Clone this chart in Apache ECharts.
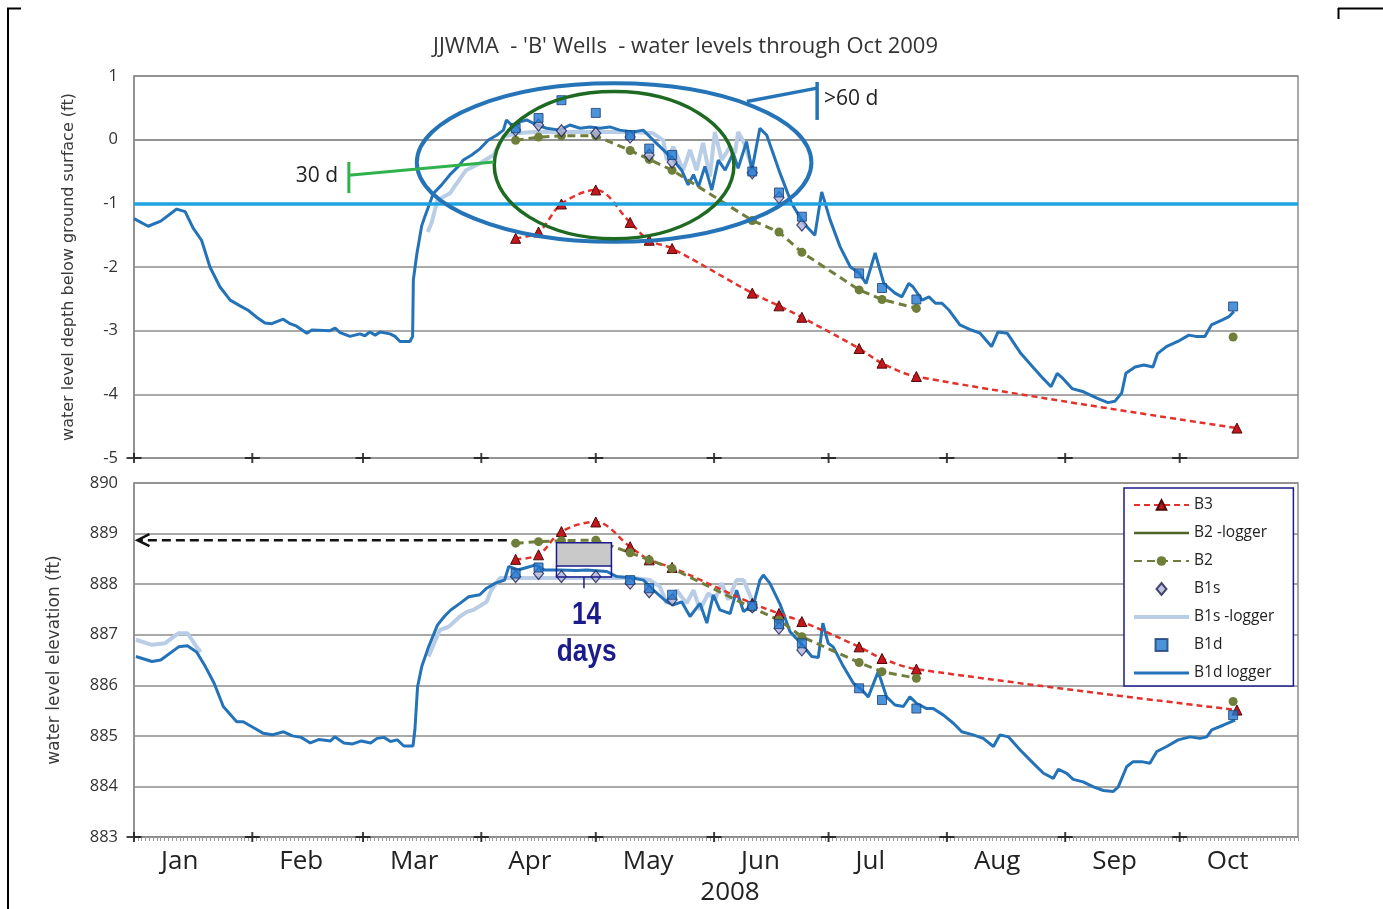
<!DOCTYPE html>
<html>
<head>
<meta charset="utf-8">
<title>JJWMA 'B' Wells - water levels</title>
<script src="https://cdn.jsdelivr.net/npm/echarts@6/dist/echarts.min.js"></script>
<style>
  html, body { margin: 0; padding: 0; background: #ffffff; }
  #chart { width: 1383px; height: 909px; }
</style>
</head>
<body>
<div id="chart"></div>
<script>
// x values are days since 1 Jan 2008 (0 = Jan 1).
const monthStartDays = [0, 31, 60, 91, 121, 152, 182, 213, 244, 274];
const monthLabels = ['Jan', 'Feb', 'Mar', 'Apr', 'May', 'Jun', 'Jul', 'Aug', 'Sep', 'Oct'];

// ---- depth below ground surface (ft) ----
const depthB3 = [[100,-1.55],[106,-1.45],[112,-1.01],[121,-0.79],[130,-1.30],[135,-1.58],[141,-1.71],
  [162,-2.41],[169,-2.61],[175,-2.79],[190,-3.28],[196,-3.51],[205,-3.72],[289,-4.53]];
// the October B2 reading is a separate visit, not joined to the summer run
const depthB2 = [[100,-0.01],[106,0.04],[112,0.06],[121,0.06],[130,-0.17],[135,-0.31],[141,-0.48],
  [162,-1.27],[169,-1.45],[175,-1.77],[190,-2.36],[196,-2.51],[205,-2.65],[250,null],[288,-3.10]];
const depthB1s = [[100,0.15],[106,0.23],[112,0.14],[121,0.10],[130,0.04],[135,-0.24],[141,-0.35],
  [162,-0.52],[169,-0.91],[175,-1.34]];
const depthB1d = [[100,0.18],[106,0.34],[112,0.62],[121,0.42],[130,0.07],[135,-0.14],[141,-0.24],
  [162,-0.50],[169,-0.83],[175,-1.21],[190,-2.10],[196,-2.33],[205,-2.51],[288,-2.62]];
const depthB1sLogger = [[77,-1.45],[78,-1.3],[79.5,-0.95],[82.8,-0.84],[87,-0.48],[90.7,-0.37],[94.2,-0.24],
  [96.8,0.05],[100.3,0.10],[104.7,0.12],[113,0.12],[122,0.12],[131,0.12],[136,0.10],[138.7,-0.01],
  [139.6,-0.32],[141.3,-0.11],[143.9,-0.48],[145.7,-0.16],[147.4,-0.48],[149.1,-0.05],[150.9,-0.58],
  [152.2,0.12],[154,-0.32],[156.2,-0.11],[157.5,-0.21],[158.3,0.12],[159.7,-0.03],[161.9,-0.42]];
const depthB1dLogger = [[0,-1.24],[3.7,-1.36],[7,-1.28],[11.2,-1.09],[13.4,-1.13],[15.5,-1.39],[17.7,-1.58],
  [19.9,-2.0],[22.5,-2.31],[25.2,-2.52],[27.8,-2.61],[29.9,-2.68],[32.6,-2.81],[34.3,-2.88],[36.1,-2.89],
  [39.1,-2.82],[40.9,-2.89],[42.6,-2.93],[45.3,-3.04],[46.6,-2.99],[51.4,-3.0],[52.7,-2.96],[54,-3.03],
  [56.6,-3.09],[59.2,-3.05],[60.5,-3.08],[61.8,-3.02],[63.2,-3.07],[64.5,-3.02],[67.1,-3.05],[68.4,-3.09],
  [69.7,-3.17],[72.3,-3.17],[73,-3.09],[73.2,-2.2],[74.1,-1.8],[75.4,-1.35],[76.2,-1.21],[78.4,-0.85],
  [80.6,-0.71],[82.8,-0.55],[85,-0.42],[86.3,-0.32],[88.5,-0.24],[90.7,-0.14],[92.8,-0.01],[95,0.07],
  [96.8,0.15],[97.6,0.31],[98.9,0.23],[99.8,0.2],[101.1,0.28],[102.9,0.31],[105.5,0.23],[108.1,0.18],
  [111.6,0.15],[114.2,0.23],[116.9,0.18],[119.5,0.2],[122.1,0.18],[124.7,0.2],[127.3,0.15],[130.8,0.12],
  [133.4,0.15],[136.1,-0.01],[138.7,-0.16],[141.3,-0.32],[143.5,-0.48],[145.2,-0.71],[146.6,-0.55],
  [147.9,-0.74],[149.6,-0.42],[151.4,-0.79],[153.1,-0.32],[154.9,-0.48],[157,-0.21],[158.3,-0.45],
  [160.5,-0.03],[161.9,-0.48],[164,0.18],[165.8,0.07],[169.3,-0.53],[172.3,-1.0],[175.4,-1.31],
  [178.4,-1.5],[180.2,-0.82],[182.4,-1.26],[185,-1.68],[187.7,-2.0],[190.1,-2.1],[191.8,-2.26],
  [194.2,-1.78],[196.5,-2.26],[199.4,-2.41],[201.2,-2.47],[203,-2.26],[204.1,-2.31],[206.5,-2.52],
  [208.3,-2.47],[210,-2.57],[211.7,-2.57],[213.6,-2.68],[216.4,-2.91],[219.4,-2.99],[221.7,-3.04],
  [224.7,-3.25],[226.4,-3.02],[228.8,-3.04],[232.4,-3.36],[235.8,-3.59],[238.2,-3.75],[240.3,-3.88],
  [241.9,-3.67],[243.4,-3.75],[245.8,-3.91],[248.8,-3.96],[252.3,-4.06],[255.2,-4.13],[257,-4.11],
  [258.8,-3.98],[259.9,-3.67],[262.3,-3.57],[264.6,-3.54],[267,-3.57],[268.2,-3.36],[270.5,-3.25],
  [273.5,-3.17],[276.4,-3.07],[278.2,-3.09],[280.6,-3.09],[282.3,-2.91],[285.2,-2.83],[286.9,-2.78],
  [288.2,-2.70]];
const groundSurfaceDepth = -1;

// ---- water level elevation (ft) ----
const elevB3 = [[100,888.49],[106,888.58],[112,889.04],[121,889.23],[130,888.74],[135,888.48],[141,888.33],
  [162,887.62],[169,887.42],[175,887.26],[190,886.76],[196,886.53],[205,886.32],[289,885.51]];
const elevB2 = [[100,888.81],[106,888.84],[112,888.86],[121,888.87],[130,888.62],[135,888.48],[141,888.31],
  [162,887.53],[169,887.29],[175,886.96],[190,886.45],[196,886.27],[205,886.14],[250,null],[288,885.68]];
const elevB1s = [[100,888.15],[106,888.21],[112,888.15],[121,888.15],[130,888.02],[135,887.85],[141,887.69],
  [162,887.55],[169,887.13],[175,886.70]];
const elevB1d = [[100,888.21],[106,888.33],[130,888.08],[135,887.92],[141,887.79],[162,887.57],[169,887.21],
  [175,886.83],[190,885.94],[196,885.71],[205,885.54],[288,885.41]];
const elevB1sLogger = [[0.5,886.9],[4.7,886.8],[8.1,886.83],[11.7,887.03],[14,887.03],[16.4,886.76],[17.5,886.66],
  [20,null],
  [77.2,886.57],[80.1,887.09],[82.5,887.16],[85.4,887.36],[87.2,887.45],[88.9,887.49],[92.4,887.65],
  [93.6,887.88],[95.9,888.12],[98.5,888.12],[104.6,888.12],[122.1,888.12],[130.8,888.12],[135.2,888.08],
  [137.8,887.95],[139.6,887.62],[142.2,887.88],[144.8,887.62],[146.6,887.88],[148.3,887.49],[150.5,887.82],
  [152.2,887.69],[154,888.02],[155.7,887.69],[157.9,888.08],[159.7,888.08],[162.3,887.62]];
const elevB1dLogger = [[0.5,886.57],[4.7,886.47],[7,886.5],[11.7,886.76],[14,886.78],[16.4,886.66],[18.7,886.37],
  [21,886.04],[23.4,885.58],[26.9,885.28],[28.6,885.28],[31.6,885.15],[33.9,885.05],[36.2,885.02],
  [39.2,885.08],[41.5,885.0],[43.8,884.97],[46.2,884.86],[48.5,884.93],[51.5,884.9],[52.6,884.98],
  [55,884.86],[57.3,884.84],[59.6,884.9],[62,884.86],[63.7,884.95],[65.5,884.97],[67.2,884.89],[69,884.92],
  [70.7,884.8],[73.1,884.8],[73.6,885.12],[74.3,885.97],[75.4,886.37],[77.2,886.76],[79.5,887.19],
  [81.3,887.36],[83,887.49],[85.4,887.62],[87.7,887.75],[90.6,887.79],[92.4,887.92],[94.7,888.02],
  [97.1,888.08],[98.2,888.35],[100.6,888.28],[102.9,888.33],[105.3,888.38],[107.6,888.28],[111.6,888.28],
  [116,888.27],[118.6,888.28],[123.9,888.25],[126.5,888.15],[130.8,888.12],[133.5,888.08],[136.1,887.88],
  [139.6,887.65],[141.3,887.59],[143.5,887.65],[145.7,887.36],[148.3,887.62],[150.1,887.23],[151.8,887.79],
  [153.5,887.49],[156.2,887.42],[157.9,887.88],[159.7,887.46],[162.3,887.59],[164,888.08],[164.9,888.18],
  [166.6,888.02],[169.3,887.6],[171.9,887.06],[174.5,886.85],[177.6,886.57],[179.3,886.55],[180.5,887.23],
  [181.9,886.83],[183.2,886.76],[185.9,886.37],[188.5,886.04],[190.7,885.91],[192.4,885.77],[195,886.27],
  [197.2,885.77],[199.4,885.61],[201.6,885.58],[203.3,885.77],[205.1,885.64],[207.7,885.54],[209.4,885.54],
  [212.1,885.41],[214.7,885.25],[216.9,885.08],[219.9,885.02],[222.5,884.95],[225.2,884.79],[226.9,885.02],
  [229.1,884.98],[232.2,884.72],[235.6,884.46],[238.3,884.26],[240.9,884.16],[242.2,884.34],[244.4,884.26],
  [246.1,884.14],[248.7,884.09],[251.4,883.99],[254,883.92],[256.6,883.9],[257.9,883.99],[260.1,884.39],
  [261.8,884.49],[264,884.49],[266.2,884.46],[268,884.69],[270.6,884.79],[273.6,884.92],[276.7,884.98],
  [279.3,884.95],[281.1,884.98],[282.4,885.12],[285.4,885.21],[288.5,885.31]];

// Colours
const RED = '#e3322b', TRI_FILL = '#c4161d', TRI_EDGE = '#4d0a0a';
const OLIVE = '#6f7e3a', OLIVE_DARK = '#4f6228';
const B1S_FILL = '#aeb4dc', B1S_EDGE = '#1e1e50';
const B1D_FILL = '#1f78d1', B1D_EDGE = '#1b3f73';
const LOG_LIGHT = '#b9cde6', LOG_DARK = '#2473b9';
const GROUND = '#1fa3e0', GRID_GRAY = '#8c8c8c', NAVY = '#1b1b8c';
const PLUS = 'path://M6.5,0h2v4h6.5v2h-6.5v4h-2v-4h-6.5v-2h6.5z';
const LABEL_FONT = "'Open Sans', 'DejaVu Sans', sans-serif";

// legend keys: plain bars for the logger traces, small marker shapes for the spot readings
const ICON_BAR_25 = 'path://M0,0H110V5H0Z';
const ICON_BAR_3 = 'path://M0,0H55V3H0Z';
const ICON_BAR_4 = 'path://M0,0H55V4H0Z';
const ICON_DIAMOND = 'path://M5,0L10,6L5,12L0,6Z';
const ICON_SQUARE = 'path://M0,0H10V10H0Z';
const legendItems = [
  { name: 'B3' },
  { name: 'B2 -logger', icon: ICON_BAR_25 },
  { name: 'B2' },
  { name: 'B1s', icon: ICON_DIAMOND },
  { name: 'B1s -logger', icon: ICON_BAR_4 },
  { name: 'B1d', icon: ICON_SQUARE },
  { name: 'B1d logger', icon: ICON_BAR_3 }
];

const chart = echarts.init(document.getElementById('chart'), null, { renderer: 'canvas' });

function panelSeries(g, d, yMin) {
  return [
    { name: 'B3', type: 'line', xAxisIndex: g, yAxisIndex: g, data: d.b3, smooth: 0.35,
      symbol: 'triangle', symbolSize: 10,
      lineStyle: { color: RED, width: 2.5, type: [6, 4] },
      itemStyle: { color: TRI_FILL, borderColor: TRI_EDGE, borderWidth: 1 }, z: 4 },
    { name: 'B2 -logger', type: 'line', xAxisIndex: g, yAxisIndex: g, data: [], symbol: 'none',
      lineStyle: { color: OLIVE_DARK, width: 2.5 }, itemStyle: { color: OLIVE_DARK } },
    { name: 'B2', type: 'line', xAxisIndex: g, yAxisIndex: g, data: d.b2, connectNulls: false,
      symbol: 'circle', symbolSize: 9,
      lineStyle: { color: OLIVE, width: 3, type: [8, 5] },
      itemStyle: { color: OLIVE }, z: 4 },
    { name: 'B1s', type: 'scatter', xAxisIndex: g, yAxisIndex: g, data: d.b1s,
      symbol: 'diamond', symbolSize: [10, 12],
      itemStyle: { color: B1S_FILL, borderColor: B1S_EDGE, borderWidth: 1.2 }, z: 5 },
    { name: 'B1s -logger', type: 'line', xAxisIndex: g, yAxisIndex: g, data: d.b1sLog,
      symbol: 'none', connectNulls: false,
      lineStyle: { color: LOG_LIGHT, width: 4 }, itemStyle: { color: LOG_LIGHT }, z: 2 },
    { name: 'B1d', type: 'scatter', xAxisIndex: g, yAxisIndex: g, data: d.b1d,
      symbol: 'rect', symbolSize: 9,
      itemStyle: { color: B1D_FILL, borderColor: B1D_EDGE, borderWidth: 1 }, z: 5 },
    Object.assign({ name: 'B1d logger', type: 'line', xAxisIndex: g, yAxisIndex: g, data: d.b1dLog,
      symbol: 'none', lineStyle: { color: LOG_DARK, width: 3 }, itemStyle: { color: LOG_DARK }, z: 3 },
      d.extra || {}),
    { name: 'month ticks', type: 'scatter', xAxisIndex: g, yAxisIndex: g, silent: true, clip: false,
      data: monthStartDays.map(m => [m, yMin]), symbol: PLUS, symbolSize: [15, 10],
      itemStyle: { color: '#111' }, z: 7 }
  ];
}

const option = {
  animation: false,
  backgroundColor: '#ffffff',
  title: {
    text: "JJWMA  - 'B' Wells  - water levels through Oct 2009",
    left: 428, top: 31,
    textStyle: { fontFamily: LABEL_FONT, fontSize: 22, fontWeight: 'normal', color: '#333' }
  },
  grid: [
    { left: 134, right: 85, top: 76, height: 382, show: true, borderColor: GRID_GRAY, borderWidth: 1.5 },
    { left: 134, right: 85, top: 483, height: 354, show: true, borderColor: GRID_GRAY, borderWidth: 1.5 }
  ],
  xAxis: [
    { gridIndex: 0, type: 'value', min: 0, max: 305,
      axisLine: { lineStyle: { color: GRID_GRAY, width: 1.5 } },
      axisTick: { show: false }, axisLabel: { show: false }, splitLine: { show: false } },
    { gridIndex: 1, type: 'value', min: 0, max: 305, interval: 1,
      axisLine: { lineStyle: { color: GRID_GRAY, width: 1.5 } },
      axisTick: { show: true, length: 4, lineStyle: { color: '#9a9a9a', width: 1 } },
      axisLabel: {
        customValues: monthStartDays,
        formatter: v => monthLabels[monthStartDays.indexOf(v)] || '',
        align: 'left', padding: [0, 0, 0, 27], margin: 12,
        fontFamily: LABEL_FONT, fontSize: 26, color: '#222'
      },
      splitLine: { show: false },
      name: '2008', nameLocation: 'middle', nameGap: 43,
      nameTextStyle: { fontFamily: LABEL_FONT, fontSize: 26, color: '#222', padding: [0, 0, 0, 28] } }
  ],
  yAxis: [
    { gridIndex: 0, type: 'value', min: -5, max: 1, interval: 1,
      axisLine: { show: true, lineStyle: { color: GRID_GRAY, width: 1.5 } },
      axisTick: { show: false },
      axisLabel: { margin: 16, fontFamily: LABEL_FONT, fontSize: 16.5, color: '#333' },
      splitLine: { lineStyle: { color: GRID_GRAY, width: 1.5 } },
      name: 'water level depth below ground surface (ft)', nameLocation: 'middle', nameGap: 57,
      nameTextStyle: { fontFamily: "'DejaVu Sans', sans-serif", fontSize: 16, color: '#3a3a3a' } },
    { gridIndex: 1, type: 'value', min: 883, max: 890, interval: 1,
      axisLine: { show: true, lineStyle: { color: GRID_GRAY, width: 1.5 } },
      axisTick: { show: false },
      axisLabel: { margin: 16, fontFamily: LABEL_FONT, fontSize: 16.5, color: '#333' },
      splitLine: { lineStyle: { color: GRID_GRAY, width: 1.5 } },
      name: 'water level elevation (ft)', nameLocation: 'middle', nameGap: 71,
      nameTextStyle: { fontFamily: "'DejaVu Sans', sans-serif", fontSize: 17, color: '#3a3a3a' } }
  ],
  legend: {
    data: legendItems, orient: 'vertical', left: 1124, top: 488,
    itemWidth: 55, itemHeight: 12, itemGap: 12, padding: [9, 19, 5, 9],
    borderColor: NAVY, borderWidth: 1.5, backgroundColor: '#ffffff',
    selectedMode: false,
    textStyle: { fontFamily: LABEL_FONT, fontSize: 15.5, color: '#222' }
  },
  series: [
    ...panelSeries(0, {
      b3: depthB3, b2: depthB2, b1s: depthB1s, b1d: depthB1d,
      b1sLog: depthB1sLogger, b1dLog: depthB1dLogger,
      extra: { markLine: { silent: true, symbol: ['none', 'none'], label: { show: false },
        lineStyle: { color: GROUND, width: 3.5, type: 'solid' },
        emphasis: { disabled: true }, data: [{ yAxis: groundSurfaceDepth }] } }
    }, -5),
    ...panelSeries(1, {
      b3: elevB3, b2: elevB2, b1s: elevB1s, b1d: elevB1d,
      b1sLog: elevB1sLogger, b1dLog: elevB1dLogger
    }, 883)
  ]
};
chart.setOption(option);

// ---- annotations, placed in data units of each panel ----
const ringBlue = { day: 125.8, depth: -0.36, halfDays: 51.7, halfDepth: 1.245 };
const ringGreen = { day: 125.8, depth: -0.40, halfDays: 31.4, halfDepth: 1.155 };
const note60 = { from: [160.6, 0.60], to: [179.0, 0.81], barTop: 0.906, barBottom: 0.31, at: [180.8, 0.64] };
const note30 = { from: [94.3, -0.35], to: [56.3, -0.56], barTop: -0.35, barBottom: -0.84, at: [53.5, -0.57] };
const peakArrow = { from: [97.7, 888.87], to: [0.9, 888.87] };
const window14 = { left: 110.7, right: 125.1, top: 888.82, mid: 888.36, bottom: 888.14, tickEnd: 887.92, center: 117.9 };
const label14 = { day: 118.6, numberAt: 887.38, unitAt: 886.66 };

function px(g, x, y) { return chart.convertToPixel({ gridIndex: g }, [x, y]); }

function ellipse(g, r, color, width) {
  const c = px(g, r.day, r.depth);
  const e = px(g, r.day + r.halfDays, r.depth - r.halfDepth);
  return { type: 'ellipse', z: 100, silent: true,
    shape: { cx: c[0], cy: c[1], rx: Math.abs(e[0] - c[0]), ry: Math.abs(e[1] - c[1]) },
    style: { fill: null, stroke: color, lineWidth: width } };
}
function seg(a, b, color, width, dash) {
  return { type: 'line', z: 100, silent: true,
    shape: { x1: a[0], y1: a[1], x2: b[0], y2: b[1] },
    style: { stroke: color, lineWidth: width, lineDash: dash || null } };
}

function buildNotes() {
  const g = [];
  // page frame
  g.push(seg([8, 8], [8, 909], '#000', 2));
  g.push(seg([7, 8.5], [21, 8.5], '#000', 2));
  g.push(seg([1338, 8.5], [1383, 8.5], '#000', 2));
  g.push(seg([1338.5, 8], [1338.5, 19], '#000', 2));

  // top panel: ellipses and callouts
  g.push(ellipse(0, ringBlue, '#2674b8', 4));
  g.push(ellipse(0, ringGreen, '#1f6a22', 3.5));

  const s60 = px(0, note60.from[0], note60.from[1]);
  const e60 = px(0, note60.to[0], note60.to[1]);
  const b60t = px(0, note60.to[0], note60.barTop);
  const b60b = px(0, note60.to[0], note60.barBottom);
  g.push(seg(s60, e60, '#2674b8', 3.5));
  g.push(seg(b60t, b60b, '#2674b8', 3.5));
  const t60 = px(0, note60.at[0], note60.at[1]);
  g.push({ type: 'text', z: 100, silent: true, x: t60[0], y: t60[1],
    style: { text: '>60 d', fill: '#222', font: "21px 'Open Sans', sans-serif",
      textAlign: 'left', textVerticalAlign: 'middle' } });

  const s30 = px(0, note30.from[0], note30.from[1]);
  const e30 = px(0, note30.to[0], note30.to[1]);
  const b30t = px(0, note30.to[0], note30.barTop);
  const b30b = px(0, note30.to[0], note30.barBottom);
  g.push(seg(s30, e30, '#2fb24c', 3));
  g.push(seg(b30t, b30b, '#2fb24c', 3));
  const t30 = px(0, note30.at[0], note30.at[1]);
  g.push({ type: 'text', z: 100, silent: true, x: t30[0], y: t30[1],
    style: { text: '30 d', fill: '#222', font: "21px 'Open Sans', sans-serif",
      textAlign: 'right', textVerticalAlign: 'middle' } });

  // bottom panel: dashed arrow back to the axis
  const a0 = px(1, peakArrow.from[0], peakArrow.from[1]);
  const a1 = px(1, peakArrow.to[0], peakArrow.to[1]);
  g.push(seg(a0, [a1[0] + 2, a1[1]], '#111', 2.5, [9, 5]));
  g.push({ type: 'polyline', z: 100, silent: true,
    shape: { points: [[a1[0] + 12, a1[1] - 6], [a1[0], a1[1]], [a1[0] + 12, a1[1] + 6]] },
    style: { stroke: '#111', lineWidth: 2.5, fill: null } });

  // 14-day window
  const wTL = px(1, window14.left, window14.top);
  const wMR = px(1, window14.right, window14.mid);
  const wB = px(1, window14.right, window14.bottom);
  const wTick = px(1, window14.center, window14.tickEnd);
  g.push({ type: 'rect', z: 100, silent: true,
    shape: { x: wTL[0], y: wTL[1], width: wMR[0] - wTL[0], height: wMR[1] - wTL[1] },
    style: { fill: '#c9c9c9', stroke: NAVY, lineWidth: 1.5 } });
  g.push({ type: 'polyline', z: 100, silent: true,
    shape: { points: [[wTL[0], wMR[1]], [wTL[0], wB[1]], [wMR[0], wB[1]], [wMR[0], wMR[1]]] },
    style: { stroke: NAVY, lineWidth: 1.5, fill: null } });
  g.push(seg([wTick[0], wB[1]], [wTick[0], wTick[1]], NAVY, 1.5));

  const n14 = px(1, label14.day, label14.numberAt);
  const d14 = px(1, label14.day, label14.unitAt);
  g.push({ type: 'text', z: 100, silent: true, x: n14[0], y: n14[1], scaleX: 0.82,
    style: { text: '14', fill: NAVY, font: "bold 32px 'Liberation Sans', Arial, sans-serif",
      textAlign: 'center', textVerticalAlign: 'middle' } });
  g.push({ type: 'text', z: 100, silent: true, x: d14[0], y: d14[1], scaleX: 0.82,
    style: { text: 'days', fill: NAVY, font: "bold 32px 'Liberation Sans', Arial, sans-serif",
      textAlign: 'center', textVerticalAlign: 'middle' } });
  return g;
}

chart.setOption({ graphic: buildNotes() });
</script>
</body>
</html>
